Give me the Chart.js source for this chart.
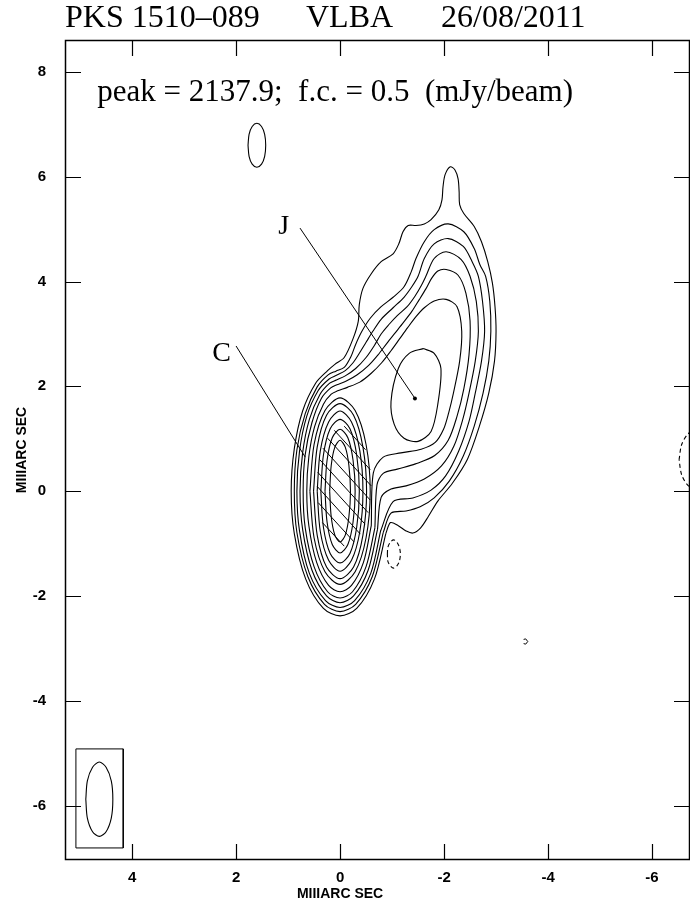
<!DOCTYPE html>
<html>
<head>
<meta charset="utf-8">
<script src="https://cdn.jsdelivr.net/npm/chart.js@4.4.1/dist/chart.umd.min.js"></script>
<style>
  html, body { margin: 0; padding: 0; background: #fff; overflow: hidden; }
  canvas { display: block; }
</style>
</head>
<body>
<canvas id="map" width="690" height="903"></canvas>
<script>
// axis ticks, milliarcsec (RA offset runs right to left)
const xTicks = [4, 2, 0, -2, -4, -6];
const yTicks = [8, 6, 4, 2, 0, -2, -4, -6];

// contour levels in mJy/beam: f.c. x 2^n
const levels = [0.5, 1, 2, 4, 8, 16, 32, 64, 128, 256, 512, 1024];

// contours 0.5 .. 16 enclose core and jet together, [RA, Dec] in mas
const cont0p5 = [[-0.88,-0.81],[-0.66,-1.68],[-0.32,-2.24],[0,-2.38],[0.32,-2.24],[0.66,-1.68],[0.88,-0.81],[0.94,0],[0.88,0.81],[0.72,1.53],[0.47,2.06],[0.24,2.30],[0.10,2.42],[-0.08,2.55],[-0.25,2.91],[-0.35,3.24],[-0.37,3.56],[-0.44,3.87],[-0.60,4.15],[-0.79,4.38],[-1.02,4.53],[-1.13,4.72],[-1.21,4.95],[-1.31,5.07],[-1.46,5.07],[-1.62,5.10],[-1.75,5.18],[-1.90,5.37],[-1.96,5.56],[-1.98,5.81],[-2.02,6.04],[-2.12,6.19],[-2.21,6.13],[-2.27,5.96],[-2.29,5.71],[-2.30,5.47],[-2.38,5.30],[-2.58,5.05],[-2.72,4.76],[-2.84,4.38],[-2.93,3.97],[-2.98,3.52],[-3.00,3.05],[-2.97,2.48],[-2.86,1.87],[-2.68,1.24],[-2.45,0.61],[-2.16,0.15],[-1.88,-0.19],[-1.70,-0.48],[-1.55,-0.70],[-1.40,-0.80],[-1.27,-0.76],[-1.12,-0.66],[-0.97,-0.60]];
const cont1 = [[-0.83,-0.79],[-0.62,-1.63],[-0.30,-2.16],[0,-2.30],[0.30,-2.16],[0.62,-1.63],[0.83,-0.79],[0.88,0],[0.83,0.79],[0.67,1.48],[0.44,1.99],[0.23,2.22],[0.08,2.29],[-0.08,2.36],[-0.21,2.57],[-0.30,2.80],[-0.42,3.05],[-0.58,3.30],[-0.79,3.52],[-1.02,3.70],[-1.23,3.90],[-1.37,4.19],[-1.46,4.44],[-1.62,4.76],[-1.81,4.99],[-2.08,5.10],[-2.38,4.95],[-2.58,4.63],[-2.69,4.32],[-2.80,4.10],[-2.88,3.62],[-2.90,3.05],[-2.86,2.48],[-2.75,1.87],[-2.58,1.24],[-2.37,0.67],[-2.10,0.19],[-1.81,-0.13],[-1.54,-0.30],[-1.27,-0.38],[-0.98,-0.42]];
const cont2 = [[-0.78,-0.76],[-0.59,-1.57],[-0.28,-2.09],[0,-2.22],[0.28,-2.09],[0.59,-1.57],[0.78,-0.76],[0.83,0],[0.78,0.76],[0.64,1.43],[0.42,1.92],[0.21,2.14],[0.07,2.21],[-0.10,2.30],[-0.25,2.45],[-0.37,2.63],[-0.50,2.84],[-0.63,3.05],[-0.79,3.28],[-1.02,3.50],[-1.23,3.70],[-1.38,3.90],[-1.50,4.10],[-1.62,4.44],[-1.81,4.72],[-2.08,4.82],[-2.37,4.67],[-2.54,4.38],[-2.66,4.10],[-2.74,3.62],[-2.78,3.05],[-2.72,2.48],[-2.60,1.87],[-2.48,1.33],[-2.28,0.76],[-2.03,0.29],[-1.75,0.02],[-1.40,-0.13],[-1.02,-0.20]];
const cont4 = [[-0.72,-0.73],[-0.54,-1.51],[-0.26,-2.00],[0,-2.13],[0.26,-2.00],[0.54,-1.51],[0.72,-0.73],[0.77,0],[0.72,0.73],[0.59,1.37],[0.39,1.84],[0.20,2.06],[0.07,2.12],[-0.10,2.20],[-0.30,2.34],[-0.50,2.55],[-0.66,2.78],[-0.79,3.00],[-0.94,3.18],[-1.10,3.35],[-1.29,3.52],[-1.44,3.72],[-1.56,3.92],[-1.65,4.10],[-1.81,4.44],[-2.04,4.57],[-2.33,4.42],[-2.50,4.10],[-2.62,3.62],[-2.66,3.05],[-2.60,2.48],[-2.48,1.87],[-2.36,1.37],[-2.19,0.86],[-1.95,0.48],[-1.62,0.23],[-1.27,0.10],[-0.98,0.04],[-0.79,-0.12]];
const cont8 = [[-0.67,-0.70],[-0.50,-1.44],[-0.24,-1.92],[0,-2.04],[0.24,-1.92],[0.50,-1.44],[0.67,-0.70],[0.71,0],[0.67,0.70],[0.54,1.31],[0.36,1.77],[0.18,1.97],[0.06,2.03],[-0.12,2.10],[-0.33,2.22],[-0.55,2.40],[-0.73,2.60],[-0.90,2.82],[-1.06,3.02],[-1.22,3.22],[-1.38,3.43],[-1.52,3.65],[-1.65,3.86],[-1.76,4.06],[-1.88,4.20],[-2.04,4.23],[-2.27,4.12],[-2.42,3.78],[-2.50,3.25],[-2.48,2.60],[-2.38,1.95],[-2.25,1.43],[-2.08,0.97],[-1.82,0.68],[-1.45,0.52],[-1.10,0.42],[-0.83,0.34],[-0.71,0.12]];
const cont16 = [[-0.60,-0.66],[-0.45,-1.36],[-0.22,-1.80],[0,-1.92],[0.22,-1.80],[0.45,-1.36],[0.60,-0.66],[0.64,0],[0.60,0.66],[0.49,1.23],[0.32,1.66],[0.17,1.85],[0.06,1.91],[-0.14,1.98],[-0.38,2.08],[-0.60,2.25],[-0.80,2.45],[-0.98,2.68],[-1.14,2.90],[-1.30,3.12],[-1.46,3.33],[-1.62,3.50],[-1.81,3.63],[-2.04,3.66],[-2.25,3.52],[-2.34,3.05],[-2.30,2.48],[-2.18,1.87],[-2.09,1.50],[-1.99,1.18],[-1.83,0.93],[-1.56,0.80],[-1.17,0.73],[-0.83,0.65],[-0.64,0.35]];

// 32 mJy splits into a jet knot (J) and a core loop
const jet32 = [[-1.60,2.72],[-1.81,2.63],[-1.94,2.34],[-1.88,1.66],[-1.75,1.14],[-1.50,0.95],[-1.23,1.01],[-1.04,1.28],[-0.98,1.71],[-1.12,2.34],[-1.33,2.63]];
const core32 = [[0.58,0],[0.50,0.89],[0.29,1.54],[0,1.78],[-0.29,1.54],[-0.50,0.89],[-0.58,0],[-0.50,-0.89],[-0.29,-1.54],[0,-1.78],[0.29,-1.54],[0.50,-0.89]];
const core64 = [[0.51,0],[0.44,0.84],[0.26,1.45],[0,1.67],[-0.26,1.45],[-0.44,0.84],[-0.51,0],[-0.44,-0.84],[-0.26,-1.45],[0,-1.67],[0.26,-1.45],[0.44,-0.84]];
const core128 = [[0.44,0],[0.38,0.77],[0.22,1.32],[0,1.53],[-0.22,1.32],[-0.38,0.77],[-0.44,0],[-0.38,-0.77],[-0.22,-1.32],[0,-1.53],[0.22,-1.32],[0.38,-0.77]];
const core256 = [[0.37,0],[0.32,0.69],[0.19,1.19],[0,1.37],[-0.19,1.19],[-0.32,0.69],[-0.37,0],[-0.32,-0.69],[-0.19,-1.19],[0,-1.37],[0.19,-1.19],[0.32,-0.69]];
const core512 = [[0.29,0],[0.25,0.59],[0.15,1.02],[0,1.18],[-0.15,1.02],[-0.25,0.59],[-0.29,0],[-0.25,-0.59],[-0.15,-1.02],[0,-1.18],[0.15,-1.02],[0.25,-0.59]];
const core1024 = [[0.20,0],[0.17,0.49],[0.10,0.84],[0,0.97],[-0.10,0.84],[-0.17,0.49],[-0.20,0],[-0.17,-0.49],[-0.10,-0.84],[0,-0.97],[0.10,-0.84],[0.17,-0.49]];

// hatching over the core peak, segment end points
const hatch = [[[-0.08,1.24],[-0.49,0.79]],[[0.11,1.16],[-0.58,0.41]],[[0.24,1.01],[-0.60,0.10]],[[0.33,0.82],[-0.58,-0.17]],[[0.39,0.60],[-0.54,-0.41]],[[0.43,0.36],[-0.48,-0.63]],[[0.44,0.09],[-0.39,-0.82]],[[0.42,-0.22],[-0.27,-0.97]],[[0.34,-0.60],[-0.08,-1.05]]];

// small isolated features
const blobNE = [[1.77,6.60],[1.75,6.81],[1.69,6.96],[1.60,7.02],[1.51,6.96],[1.45,6.81],[1.43,6.60],[1.45,6.39],[1.51,6.24],[1.60,6.18],[1.69,6.24],[1.75,6.39]];
const speck = [[-3.53,-2.83],[-3.57,-2.82],[-3.61,-2.87],[-3.57,-2.92],[-3.53,-2.91]];

// negative (-0.5 mJy) contours
const negCore = [[-0.91,-1.20],[-0.92,-1.07],[-0.97,-0.97],[-1.03,-0.93],[-1.09,-0.97],[-1.14,-1.07],[-1.16,-1.20],[-1.14,-1.34],[-1.09,-1.43],[-1.03,-1.47],[-0.97,-1.43],[-0.92,-1.34]];
const negEdge = [[-6.52,0.60],[-6.57,0.89],[-6.70,1.10],[-6.88,1.18],[-7.06,1.10],[-7.19,0.89],[-7.24,0.60],[-7.19,0.31],[-7.06,0.10],[-6.88,0.02],[-6.70,0.10],[-6.57,0.31]];

// restoring beam and its box
const beam = [[4.89,-5.88],[4.86,-5.53],[4.76,-5.27],[4.63,-5.17],[4.50,-5.27],[4.40,-5.53],[4.37,-5.88],[4.40,-6.24],[4.50,-6.50],[4.63,-6.59],[4.76,-6.50],[4.86,-6.24]];
const beamBox = [[5.08,-4.92],[4.17,-4.92],[4.17,-6.81],[5.08,-6.81],[5.08,-4.92]];

// component markers
const leaderJ = [[0.77,5.02],[-1.44,1.77]];
const leaderC = [[2.00,2.77],[0.67,0.65]];

const toPts = (arr, close) => {
    const p = arr.map(([x, y]) => ({x, y}));
    if (close) p.push({x: arr[0][0], y: arr[0][1]});
    return p;
};

function loop(arr, dashed) {
    return {
        data: toPts(arr, true),
        showLine: true,
        borderColor: '#000',
        borderWidth: 1.1,
        borderDash: dashed ? [4, 3] : [],
        tension: 0.3,
        pointRadius: 0
    };
}
function seg(arr) {
    return {
        data: toPts(arr, false),
        showLine: true,
        borderColor: '#000',
        borderWidth: 1,
        tension: 0,
        pointRadius: 0
    };
}

const datasets = [
    cont0p5, cont1, cont2, cont4, cont8, cont16,
    jet32, core32, core64, core128, core256, core512, core1024,
    blobNE, beam
].map(c => loop(c, false));
datasets.push(loop(negCore, true), loop(negEdge, true));
datasets.push(seg(speck), seg(beamBox), seg(leaderJ), seg(leaderC));
hatch.forEach(h => datasets.push(seg(h)));
datasets.push({
    data: [{x: leaderJ[1][0], y: leaderJ[1][1]}],
    showLine: false,
    pointRadius: 2,
    backgroundColor: '#000',
    borderWidth: 0
});

const serif = "'Liberation Serif', 'Times New Roman', serif";
const sans = "'Liberation Sans', Arial, sans-serif";

// frame, inward ticks and all annotation text
const decorations = {
    id: 'decorations',
    afterDraw(chart) {
        const {ctx, chartArea: a, scales: {x, y}} = chart;
        ctx.save();
        ctx.strokeStyle = '#000';
        ctx.lineWidth = 1.5;
        ctx.strokeRect(a.left + 0.5, a.top + 0.5, a.right - a.left - 1, a.bottom - a.top - 1);

        ctx.lineWidth = 1.2;
        ctx.beginPath();
        xTicks.forEach(v => {
            const px = Math.round(x.getPixelForValue(v)) + 0.5;
            ctx.moveTo(px, a.top); ctx.lineTo(px, a.top + 16);
            ctx.moveTo(px, a.bottom); ctx.lineTo(px, a.bottom - 16);
        });
        yTicks.forEach(v => {
            const py = Math.round(y.getPixelForValue(v)) + 0.5;
            ctx.moveTo(a.left, py); ctx.lineTo(a.left + 16, py);
            ctx.moveTo(a.right, py); ctx.lineTo(a.right - 16, py);
        });
        ctx.stroke();

        ctx.fillStyle = '#000';
        ctx.textBaseline = 'alphabetic';
        ctx.textAlign = 'left';
        ctx.font = '32px ' + serif;
        ctx.fillText('PKS 1510\u2013089', a.left, 27);
        ctx.fillText('VLBA', 306, 27);
        ctx.fillText('26/08/2011', 441, 27);

        ctx.font = '31px ' + serif;
        ctx.fillText('peak = 2137.9;  f.c. = 0.5  (mJy/beam)', x.getPixelForValue(4.67), y.getPixelForValue(7.44));

        ctx.font = '28px ' + serif;
        ctx.fillText('J', x.getPixelForValue(1.19), y.getPixelForValue(4.90));
        ctx.fillText('C', x.getPixelForValue(2.46), y.getPixelForValue(2.48));

        ctx.font = 'bold 14px ' + sans;
        ctx.textAlign = 'center';
        ctx.textBaseline = 'middle';
        ctx.fillText('MIIIARC SEC', x.getPixelForValue(0), 894);
        ctx.translate(22, (a.top + a.bottom) / 2);
        ctx.rotate(-Math.PI / 2);
        ctx.fillText('MIIIARC SEC', 0, 0);
        ctx.restore();
    }
};

new Chart(document.getElementById('map'), {
    type: 'scatter',
    data: { datasets },
    options: {
        responsive: false,
        animation: false,
        layout: { autoPadding: false, padding: { top: 40, left: 0, right: 0, bottom: 0 } },
        plugins: { legend: { display: false }, tooltip: { enabled: false } },
        elements: { line: { borderJoinStyle: 'round' } },
        scales: {
            x: {
                type: 'linear',
                reverse: true,
                min: -6.73,
                max: 5.29,
                afterBuildTicks: s => { s.ticks = xTicks.map(v => ({value: v})); },
                afterFit: s => { s.height = 43; s.paddingLeft = 0; s.paddingRight = 0; },
                grid: { display: false, drawTicks: false },
                border: { display: false },
                ticks: {
                    color: '#000',
                    padding: 9,
                    maxRotation: 0,
                    autoSkip: false,
                    font: { family: sans, size: 15, weight: 'bold' },
                    callback: v => String(v)
                }
            },
            y: {
                type: 'linear',
                min: -7.04,
                max: 8.61,
                afterBuildTicks: s => { s.ticks = yTicks.map(v => ({value: v})); },
                afterFit: s => { s.width = 65; s.paddingTop = 0; s.paddingBottom = 0; },
                grid: { display: false, drawTicks: false },
                border: { display: false },
                ticks: {
                    color: '#000',
                    padding: 19,
                    autoSkip: false,
                    font: { family: sans, size: 15, weight: 'bold' },
                    callback: v => String(v)
                }
            }
        }
    },
    plugins: [decorations]
});
</script>
</body>
</html>
